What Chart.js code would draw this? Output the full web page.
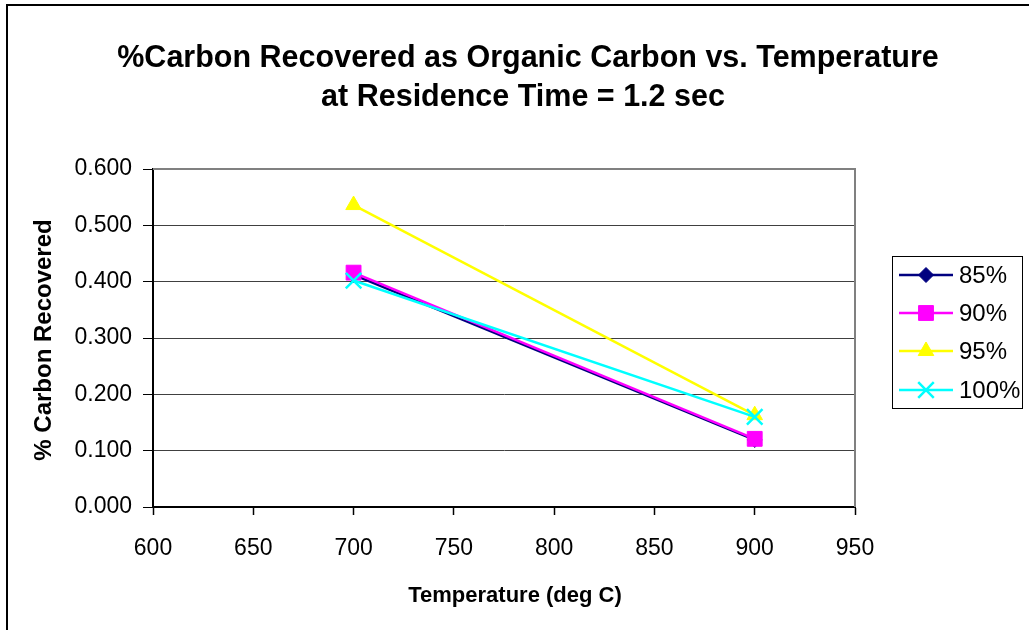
<!DOCTYPE html>
<html>
<head>
<meta charset="utf-8">
<script src="https://cdn.jsdelivr.net/npm/chart.js@4.4.0/dist/chart.umd.min.js"></script>
<style>
  body { margin: 0; background: #fff; }
  canvas { display: block; }
</style>
</head>
<body>
<canvas id="chart" width="1029" height="630"></canvas>
<script>
const temperatures = [700, 900];
const series85 = [0.412, 0.119];
const series90 = [0.416, 0.121];
const series95 = [0.536, 0.163];
const series100 = [0.402, 0.160];
const seriesLabels = ["85%", "90%", "95%", "100%"];
const titleLines = ["%Carbon Recovered as Organic Carbon vs. Temperature", "at Residence Time = 1.2 sec"];
const xTitle = "Temperature (deg C)";
const yTitle = "% Carbon Recovered";

const font = "'Liberation Sans', Arial, sans-serif";

const toPoints = (vals) => vals.map((v, i) => ({ x: temperatures[i], y: v }));

const styles = [
  { color: "#000080", pointStyle: "rectRot", radius: 7.5, borderWidth: 1 },
  { color: "#FF00FF", pointStyle: "rect", radius: 10.5, borderWidth: 1 },
  { color: "#FFFF00", pointStyle: "triangle", radius: 9, borderWidth: 1 },
  { color: "#00FFFF", pointStyle: "crossRot", radius: 11, borderWidth: 2.5 },
];
const allSeries = [series85, series90, series95, series100];

const datasets = allSeries.map((vals, i) => ({
  label: seriesLabels[i],
  data: toPoints(vals),
  borderColor: styles[i].color,
  backgroundColor: styles[i].color,
  borderWidth: 2.5,
  pointStyle: styles[i].pointStyle,
  pointRadius: styles[i].radius,
  pointBorderWidth: styles[i].borderWidth,
  pointBackgroundColor: styles[i].color,
  pointBorderColor: styles[i].color,
  tension: 0,
  order: 4 - i,
}));

const decorations = {
  id: "decorations",
  beforeDraw(chart) {
    const ctx = chart.ctx;
    ctx.save();
    ctx.fillStyle = "#fff";
    ctx.fillRect(0, 0, chart.width, chart.height);
    ctx.strokeStyle = "#000";
    ctx.lineWidth = 2;
    ctx.strokeRect(7, 5, 1100, 1100);
    ctx.restore();
  },
  beforeDatasetsDraw(chart) {
    const { ctx, chartArea: a } = chart;
    ctx.save();
    ctx.strokeStyle = "#808080";
    ctx.lineWidth = 2;
    ctx.beginPath();
    ctx.moveTo(a.left, a.top);
    ctx.lineTo(a.right, a.top);
    ctx.lineTo(a.right, a.bottom);
    ctx.stroke();
    ctx.restore();
  },
  afterDraw(chart) {
    const ctx = chart.ctx;
    ctx.save();
    ctx.fillStyle = "#000";
    ctx.textAlign = "center";
    ctx.textBaseline = "alphabetic";
    ctx.font = "bold 30.5px " + font;
    ctx.fillText(titleLines[0], 528, 67);
    ctx.fillText(titleLines[1], 523, 106);

    ctx.font = "bold 22px " + font;
    ctx.fillText(xTitle, 515, 602);

    ctx.save();
    ctx.translate(44, 340);
    ctx.rotate(-Math.PI / 2);
    ctx.textBaseline = "middle";
    ctx.font = "bold 24px " + font;
    ctx.fillText(yTitle, 0, 0);
    ctx.restore();

    // legend
    ctx.strokeStyle = "#000";
    ctx.lineWidth = 1;
    ctx.strokeRect(892.5, 256.5, 130, 152);
    const rowY = [275, 313, 351, 390];
    ctx.font = "24px " + font;
    ctx.textAlign = "left";
    ctx.textBaseline = "middle";
    chart.data.datasets.forEach((ds, i) => {
      const y = rowY[i];
      ctx.strokeStyle = ds.borderColor;
      ctx.fillStyle = ds.backgroundColor;
      ctx.lineWidth = 2.5;
      ctx.beginPath();
      ctx.moveTo(899, y);
      ctx.lineTo(953, y);
      ctx.stroke();
      ctx.lineWidth = ds.pointBorderWidth;
      Chart.helpers.drawPoint(ctx, {
        pointStyle: ds.pointStyle,
        radius: ds.pointRadius,
        borderWidth: ds.pointBorderWidth,
        rotation: 0,
      }, 926, y);
      ctx.fillStyle = "#000";
      ctx.fillText(ds.label, 959, y + 1);
    });
    ctx.restore();
  },
};

new Chart(document.getElementById("chart"), {
  type: "line",
  data: { datasets },
  options: {
    responsive: false,
    animation: false,
    layout: { padding: { top: 169, right: 174, left: 0, bottom: 0 } },
    plugins: {
      legend: { display: false },
      tooltip: { enabled: false },
      title: { display: false },
    },
    scales: {
      x: {
        type: "linear",
        min: 600,
        max: 950,
        afterFit(scale) { scale.height = 123; },
        ticks: {
          stepSize: 50,
          color: "#000",
          padding: 20,
          font: { family: font, size: 23 },
        },
        grid: { drawOnChartArea: false, drawTicks: true, tickLength: 8, color: "#000", tickWidth: 1.5 },
        border: { color: "#000", width: 2 },
      },
      y: {
        min: 0,
        max: 0.6,
        afterFit(scale) { scale.width = 153; },
        ticks: {
          stepSize: 0.1,
          color: "#000",
          padding: 11,
          font: { family: font, size: 23 },
          callback: (v) => Number(v).toFixed(3),
        },
        grid: { color: "#404040", lineWidth: 1, tickLength: 10, tickColor: "#000" },
        border: { color: "#000", width: 2 },
      },
    },
  },
  plugins: [decorations],
});
</script>
</body>
</html>
